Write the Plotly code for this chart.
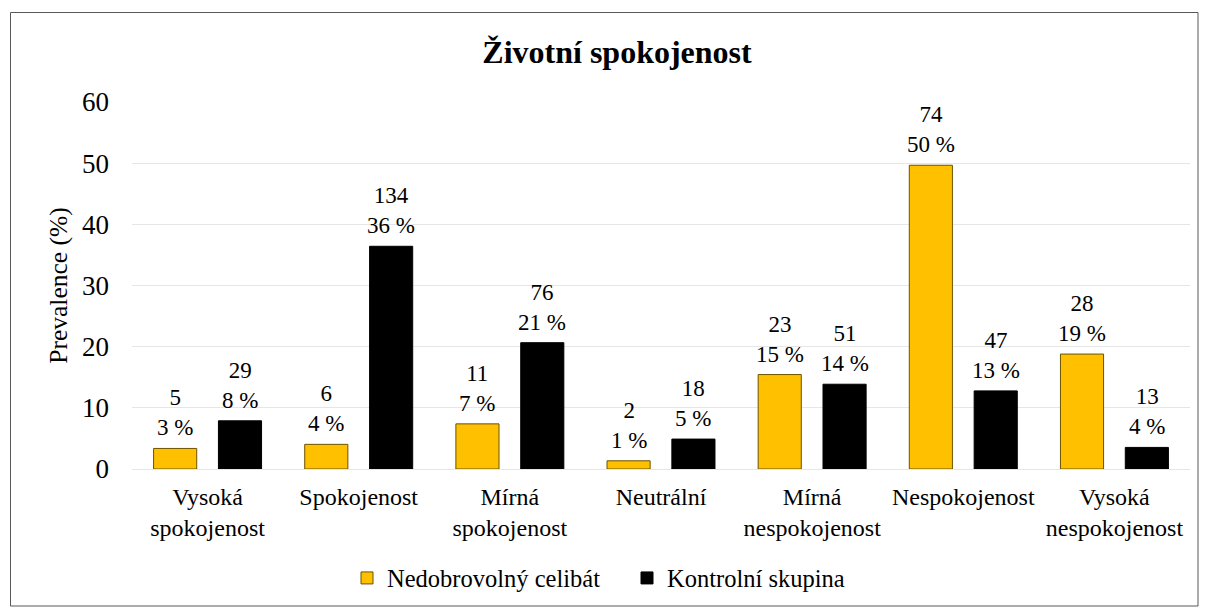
import plotly.graph_objects as go

categories = ["Vysoká<br>spokojenost", "Spokojenost", "Mírná<br>spokojenost", "Neutrální",
              "Mírná<br>nespokojenost", "Nespokojenost", "Vysoká<br>nespokojenost"]
series_names = ["Nedobrovolný celibát", "Kontrolní skupina"]
celibat_pct = [3.36, 4.03, 7.38, 1.34, 15.44, 49.66, 18.79]
celibat_n = [5, 6, 11, 2, 23, 74, 28]
kontrol_pct = [7.88, 36.41, 20.65, 4.89, 13.86, 12.77, 3.53]
kontrol_n = [29, 134, 76, 18, 51, 47, 13]
y_ticks = [0, 10, 20, 30, 40, 50, 60]

FONT = "Liberation Serif"
W, H = 1208, 612
ML, MR, MT, MB = 132, 18, 102, 143
BARGAP, GROUPGAP = 0.142, 0.335

def labels(ns, ps):
    return [f"{n}<br>{round(p):.0f} %" for n, p in zip(ns, ps)]

fig = go.Figure()
fig.add_trace(go.Bar(
    x=categories, y=celibat_pct, name=series_names[0],
    marker=dict(color="#FFC000", line=dict(color="#6b5200", width=1)),
))
fig.add_trace(go.Bar(
    x=categories, y=kontrol_pct, name=series_names[1],
    marker=dict(color="#000000", line=dict(color="#000000", width=1)),
))

pw = W - ML - MR
ph = H - MT - MB
# bar-label annotations, centred over each bar of the group
cat_px = pw / len(categories)
half_slot = cat_px * (1 - BARGAP) / 4
for vals, ns, sgn in [(celibat_pct, celibat_n, -1), (kontrol_pct, kontrol_n, 1)]:
    for c, v, t in zip(categories, vals, labels(ns, vals)):
        fig.add_annotation(x=c, y=v, text=t, showarrow=False, xanchor="center", yanchor="bottom",
                           xshift=sgn * half_slot, yshift=6,
                           font=dict(family=FONT, size=23, color="black"))

fig.add_shape(type="rect", xref="paper", yref="paper",
              x0=(10.5 - ML) / pw, x1=(1198 - ML) / pw,
              y0=(H - MB - 606) / ph, y1=(H - MB - 12.5) / ph,
              line=dict(color="#595959", width=1), fillcolor="rgba(0,0,0,0)", layer="below")

fig.update_layout(
    width=W, height=H,
    margin=dict(l=ML, r=MR, t=MT, b=MB),
    paper_bgcolor="white", plot_bgcolor="white",
    font=dict(family=FONT, color="black"),
    title=dict(text="<b>Životní spokojenost</b>", x=617 / W, xanchor="center",
               y=1 - 52 / H, yanchor="middle", font=dict(family=FONT, size=32, color="black")),
    barmode="group", bargap=BARGAP, bargroupgap=GROUPGAP,
    showlegend=True,
    legend=dict(orientation="h", x=(347 - ML) / pw, xanchor="left", y=-(578 - (H - MB)) / ph,
                yanchor="middle", font=dict(family=FONT, size=24.5, color="black"),
                traceorder="normal", itemwidth=30, entrywidth=235, entrywidthmode="pixels"),
    xaxis=dict(tickfont=dict(family=FONT, size=24, color="black"), showline=False,
               showgrid=False, ticks="", tickangle=0, ticklabelstandoff=11),
    yaxis=dict(range=[0, 60], tickvals=y_ticks, tickfont=dict(family=FONT, size=27, color="black"),
               showgrid=True, gridcolor="#E6E6E6", gridwidth=1, zeroline=True,
               zerolinecolor="#E6E6E6", zerolinewidth=1, showline=False, ticks="",
               ticklen=0, ticklabelstandoff=22,
               title=dict(text="Prevalence (%)", font=dict(family=FONT, size=25.5, color="black"),
                          standoff=7)),
)

fig.write_html("out.html", config={"displayModeBar": False},
               post_script="document.body.style.margin='0';document.body.style.padding='0';")
